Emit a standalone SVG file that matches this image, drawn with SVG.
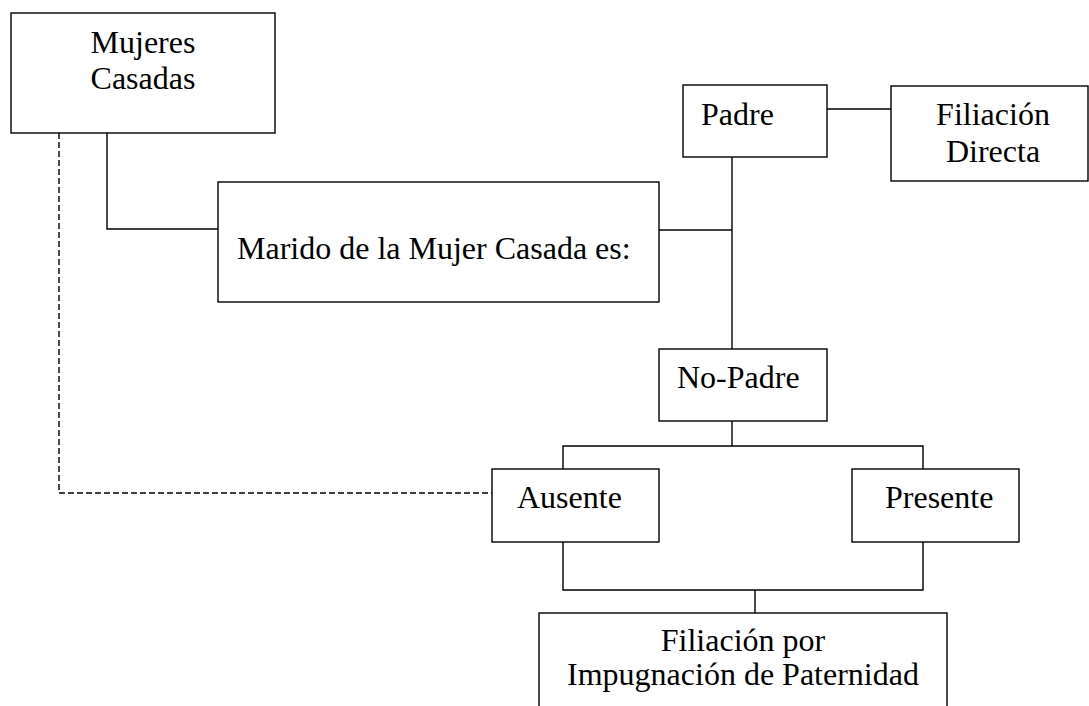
<svg xmlns="http://www.w3.org/2000/svg" width="1089" height="706" viewBox="0 0 1089 706">
<style>
.box{fill:#fff;stroke:#000;stroke-width:1.4}
.ln{fill:none;stroke:#000;stroke-width:1.4}
.dash{fill:none;stroke:#000;stroke-width:1.4;stroke-dasharray:6 3}
text{font-family:"Liberation Serif","Times New Roman",serif;font-size:32px;fill:#000}
.c{text-anchor:middle}
</style>
<rect width="1089" height="706" fill="#fff"/>
<g id="connectors">
<polyline class="dash" points="59,133 59,493 492,493"/>
<polyline class="ln" points="107,133 107,229 218,229"/>
<line class="ln" x1="659" y1="230" x2="732" y2="230"/>
<line class="ln" x1="732" y1="157" x2="732" y2="349"/>
<line class="ln" x1="827" y1="109" x2="891" y2="109"/>
<line class="ln" x1="732" y1="421" x2="732" y2="446"/>
<polyline class="ln" points="563,469 563,446 923,446 923,469"/>
<polyline class="ln" points="563,542 563,590 923,590 923,542"/>
<line class="ln" x1="755" y1="590" x2="755" y2="613"/>
</g>
<g id="mujeres">
<rect class="box" x="11" y="13" width="264" height="120"/>
<text class="c" x="143" y="53">Mujeres</text>
<text class="c" x="143" y="89">Casadas</text>
</g>
<g id="marido">
<rect class="box" x="218" y="182" width="441" height="120"/>
<text x="237" y="259">Marido de la Mujer Casada es:</text>
</g>
<g id="padre">
<rect class="box" x="683" y="85" width="144" height="72"/>
<text x="701" y="125">Padre</text>
</g>
<g id="filiacion-directa">
<rect class="box" x="891" y="86" width="197" height="95"/>
<text class="c" x="993" y="125">Filiación</text>
<text class="c" x="993" y="162">Directa</text>
</g>
<g id="no-padre">
<rect class="box" x="659" y="349" width="168" height="72"/>
<text x="677" y="388">No-Padre</text>
</g>
<g id="ausente">
<rect class="box" x="492" y="469" width="167" height="73"/>
<text x="517" y="508">Ausente</text>
</g>
<g id="presente">
<rect class="box" x="852" y="469" width="167" height="73"/>
<text x="885" y="508">Presente</text>
</g>
<g id="filiacion-impugnacion">
<rect class="box" x="539" y="613" width="408" height="120"/>
<text class="c" x="743" y="651">Filiación por</text>
<text class="c" x="743" y="685">Impugnación de Paternidad</text>
</g>
</svg>
